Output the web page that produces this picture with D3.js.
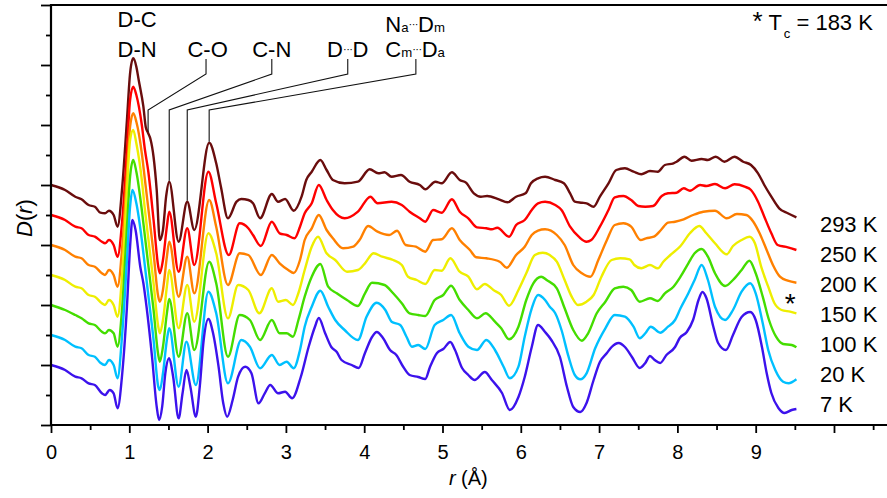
<!DOCTYPE html>
<html>
<head>
<meta charset="utf-8">
<script src="https://cdn.jsdelivr.net/npm/d3@7"></script>
<style>
  body { margin: 0; background: #fff; }
  svg { display: block; }
  text { font-family: "Liberation Sans", Arial, Helvetica, sans-serif; fill: #000; }
</style>
</head>
<body>
<svg id="chart" width="887" height="498"></svg>
<script>
// Temperatures, bottom curve first
const temperatures = ["7 K", "20 K", "100 K", "150 K", "200 K", "250 K", "293 K"];
const lineColors = ["#3c12ec", "#00c0ff", "#44dd00", "#eeee00", "#ff8000", "#ff0000", "#6a0d0d"];

// D(r) for each temperature, [r (Å), D] pairs (arbitrary units)
const d7K = [[0,0],[0.18,-0.5],[0.31,-1.17],[0.39,-1.33],[0.48,-1.83],[0.56,-2.0],[0.65,-2.83],[0.69,-3.0],[0.75,-2.5],[0.8,-2.83],[0.85,-4.33],[0.91,-0.83],[0.97,5.83],[1.01,11.83],[1.04,14.5],[1.08,13.5],[1.14,9.83],[1.18,8.17],[1.22,5.83],[1.29,0.83],[1.35,-4.17],[1.38,-5.5],[1.42,-4.17],[1.46,-0.83],[1.51,0.67],[1.56,-1.17],[1.63,-5.33],[1.68,-2.83],[1.73,-0.5],[1.78,-2.17],[1.85,-5.17],[1.9,-2.17],[1.95,2.5],[2.01,4.6],[2.07,3.17],[2.14,-0.17],[2.2,-3.83],[2.25,-5.17],[2.32,-3.5],[2.39,-1.17],[2.48,-0.17],[2.56,-0.83],[2.65,-3.83],[2.73,-2.83],[2.8,-2.0],[2.9,-2.83],[2.99,-2.67],[3.08,-3.33],[3.19,-1.2],[3.29,1.8],[3.37,3.8],[3.42,4.7],[3.5,3.2],[3.58,1.8],[3.65,1.3],[3.71,0.5],[3.84,0.0],[3.93,-0.3],[4.01,1.2],[4.1,2.8],[4.16,3.3],[4.24,2.7],[4.33,1.5],[4.41,1.0],[4.5,-0.2],[4.58,-1.0],[4.69,-1.2],[4.78,-1.4],[4.84,-0.2],[4.93,1.2],[5.01,1.6],[5.1,2.3],[5.16,1.5],[5.25,-0.3],[5.33,-1.0],[5.41,-1.5],[5.54,-0.7],[5.63,-1.5],[5.76,-2.8],[5.86,-4.5],[5.97,-3.2],[6.05,-1.2],[6.14,1.8],[6.22,4.0],[6.31,3.3],[6.39,2.5],[6.5,0.8],[6.59,-2.2],[6.67,-4.2],[6.76,-4.7],[6.84,-3.8],[6.93,-1.5],[7.01,0.3],[7.1,1.2],[7.16,1.8],[7.25,2.2],[7.33,1.8],[7.42,0.8],[7.52,-0.3],[7.59,0.2],[7.65,0.9],[7.71,0.5],[7.78,0.2],[7.86,1.0],[7.97,1.8],[8.03,2.7],[8.12,3.3],[8.2,4.5],[8.27,6.5],[8.32,7.3],[8.37,6.7],[8.46,3.8],[8.52,2.2],[8.62,1.5],[8.71,3.0],[8.82,4.8],[8.93,5.3],[9.0,4.5],[9.08,1.8],[9.14,-0.8],[9.2,-2.8],[9.29,-4.3],[9.37,-4.8],[9.46,-4.5],[9.52,-4.4]];

const d20K = [[0,0],[0.18,-0.5],[0.31,-1.17],[0.39,-1.33],[0.48,-2.0],[0.56,-2.17],[0.63,-2.77],[0.69,-3.0],[0.74,-2.5],[0.8,-3.0],[0.85,-4.33],[0.91,0.17],[0.97,7.5],[1.01,12.83],[1.04,14.5],[1.09,13.17],[1.16,9.5],[1.2,6.83],[1.24,4.17],[1.31,-0.5],[1.37,-5.17],[1.39,-5.5],[1.43,-3.83],[1.48,-0.5],[1.51,0.67],[1.63,-5.17],[1.73,-0.67],[1.85,-5.0],[2.01,4.33],[2.11,2.17],[2.26,-4.83],[2.43,-0.5],[2.54,-1.17],[2.67,-3.33],[2.82,-2.0],[2.92,-3.0],[3.01,-2.67],[3.1,-3.33],[3.18,-1.5],[3.24,0.83],[3.33,2.83],[3.44,4.43],[3.54,2.83],[3.63,1.5],[3.75,0.5],[3.92,-0.5],[4.03,1.83],[4.16,3.23],[4.27,2.5],[4.35,1.33],[4.46,1.0],[4.54,-0.17],[4.61,-1.17],[4.69,-1.0],[4.78,-1.4],[4.9,1.0],[5.01,1.5],[5.11,2.0],[5.22,0.17],[5.33,-1.17],[5.44,-1.5],[5.56,-0.5],[5.67,-1.5],[5.78,-3.17],[5.86,-4.33],[5.97,-3.17],[6.05,-0.17],[6.14,2.67],[6.22,4.0],[6.31,3.5],[6.37,2.83],[6.44,2.17],[6.52,0.5],[6.61,-2.17],[6.69,-4.0],[6.76,-4.43],[6.84,-3.83],[6.95,-1.33],[7.08,0.67],[7.2,2.0],[7.33,1.83],[7.44,0.83],[7.52,-0.33],[7.59,0.17],[7.66,0.83],[7.78,0.23],[7.88,0.83],[7.97,1.5],[8.04,2.67],[8.14,4.17],[8.22,5.5],[8.31,7.0],[8.39,5.5],[8.48,2.83],[8.61,1.5],[8.71,2.5],[8.82,4.33],[8.93,5.17],[9.0,4.17],[9.09,1.17],[9.16,-1.5],[9.25,-3.5],[9.35,-4.67],[9.42,-4.83],[9.52,-4.43]];

const d100K = [[0,0],[0.18,-0.5],[0.31,-1.0],[0.39,-1.33],[0.48,-1.83],[0.56,-2.0],[0.65,-2.67],[0.69,-2.83],[0.74,-2.5],[0.8,-2.83],[0.85,-4.17],[0.91,-0.17],[0.97,7.83],[1.01,12.83],[1.05,14.5],[1.09,13.33],[1.16,9.5],[1.2,6.83],[1.24,4.17],[1.31,-0.5],[1.37,-5.0],[1.39,-5.67],[1.43,-4.17],[1.48,-0.83],[1.51,0.6],[1.63,-5.17],[1.74,-0.83],[1.83,-4.5],[2.02,4.33],[2.11,2.17],[2.26,-5.17],[2.41,-1.0],[2.54,-1.5],[2.67,-3.5],[2.82,-1.5],[2.92,-2.83],[3.01,-2.83],[3.09,-3.17],[3.16,-1.5],[3.24,0.83],[3.33,2.83],[3.44,4.1],[3.54,1.83],[3.65,1.17],[3.78,0.5],[3.92,-0.1],[4.01,1.17],[4.1,2.23],[4.26,2.0],[4.37,1.17],[4.48,0.17],[4.58,-0.83],[4.69,-1.0],[4.78,-1.1],[4.9,0.5],[5.01,1.0],[5.11,1.93],[5.22,0.5],[5.33,-0.5],[5.44,-1.33],[5.55,-0.83],[5.67,-1.67],[5.75,-2.33],[5.85,-3.43],[5.97,-2.17],[6.07,0.5],[6.16,2.17],[6.26,2.83],[6.33,2.5],[6.46,1.67],[6.56,-0.33],[6.67,-2.5],[6.78,-3.57],[6.86,-2.83],[6.97,-0.83],[7.08,0.33],[7.2,1.67],[7.31,1.83],[7.41,1.5],[7.52,0.33],[7.65,0.67],[7.75,0.4],[7.84,1.17],[7.95,1.83],[8.04,2.83],[8.14,4.17],[8.22,5.17],[8.31,5.6],[8.39,4.83],[8.48,3.17],[8.61,1.9],[8.71,2.5],[8.82,3.5],[8.92,4.43],[9.0,3.17],[9.09,0.83],[9.17,-1.5],[9.26,-3.17],[9.35,-3.9],[9.46,-4.0],[9.52,-4.23]];

const d150K = [[0,0],[0.18,-0.5],[0.31,-1.17],[0.39,-1.33],[0.48,-2.0],[0.56,-2.17],[0.65,-2.83],[0.69,-3.0],[0.74,-2.5],[0.8,-3.0],[0.85,-4.17],[0.91,0.17],[0.97,8.5],[1.01,13.5],[1.05,14.5],[1.09,13.17],[1.16,9.5],[1.2,6.5],[1.24,3.83],[1.31,-0.83],[1.37,-5.17],[1.39,-5.83],[1.43,-4.5],[1.48,-1.17],[1.51,0.5],[1.63,-5.33],[1.74,-1.0],[1.83,-4.67],[2.01,4.17],[2.11,2.17],[2.26,-4.33],[2.39,-1.0],[2.52,-1.5],[2.66,-3.83],[2.82,-1.33],[2.9,-2.67],[3.0,-2.5],[3.09,-3.0],[3.16,-1.8],[3.24,0.5],[3.33,2.83],[3.41,3.83],[3.52,2.17],[3.63,1.5],[3.78,0.33],[3.92,0.5],[4.01,1.17],[4.12,2.17],[4.23,1.83],[4.37,1.5],[4.48,1.0],[4.56,-0.17],[4.67,-0.5],[4.78,-0.9],[4.9,0.5],[4.99,0.43],[5.1,1.67],[5.22,0.33],[5.33,-0.17],[5.44,-1.43],[5.54,-0.9],[5.65,-1.5],[5.75,-2.0],[5.85,-3.07],[5.97,-1.5],[6.07,0.17],[6.18,2.0],[6.28,2.23],[6.37,2.0],[6.46,1.33],[6.56,-0.5],[6.65,-2.17],[6.73,-3.0],[6.84,-2.67],[6.93,-2.0],[7.03,-0.17],[7.16,1.5],[7.27,1.67],[7.39,1.57],[7.45,1.0],[7.54,0.67],[7.65,1.0],[7.75,0.67],[7.82,1.33],[7.91,2.0],[8.04,2.9],[8.16,4.17],[8.28,4.9],[8.37,4.17],[8.48,3.17],[8.63,2.07],[8.71,2.9],[8.82,3.5],[8.92,3.83],[8.99,3.17],[9.07,0.83],[9.16,-1.17],[9.24,-2.83],[9.33,-3.5],[9.44,-3.67],[9.52,-3.83]];

const d200K = [[0,0],[0.18,-0.5],[0.31,-1.17],[0.39,-1.33],[0.48,-2.0],[0.56,-2.17],[0.65,-2.83],[0.69,-3.0],[0.74,-2.5],[0.8,-3.0],[0.85,-4.17],[0.91,-0.17],[0.97,7.17],[1.01,11.83],[1.05,13.17],[1.09,12.33],[1.16,9.17],[1.2,6.5],[1.24,3.83],[1.31,-0.83],[1.37,-5.17],[1.39,-5.67],[1.43,-4.5],[1.48,-1.17],[1.51,0.33],[1.63,-5.17],[1.74,-1.17],[1.83,-4.83],[2.02,4.5],[2.11,1.83],[2.26,-4.0],[2.41,-0.83],[2.52,-1.0],[2.68,-3.0],[2.82,-1.0],[2.92,-1.83],[3.03,-2.5],[3.1,-2.8],[3.18,-1.5],[3.24,0.5],[3.33,1.67],[3.42,3.0],[3.52,1.5],[3.6,0.67],[3.73,-0.33],[3.86,-0.17],[3.94,0.5],[4.05,1.9],[4.17,1.33],[4.32,1.0],[4.42,1.43],[4.53,0.0],[4.66,-0.17],[4.78,-0.67],[4.88,0.5],[4.99,0.57],[5.12,1.67],[5.22,0.5],[5.35,-0.5],[5.43,-1.23],[5.56,-1.33],[5.73,-1.67],[5.82,-2.27],[5.94,-1.0],[6.05,-0.17],[6.14,1.0],[6.22,1.43],[6.31,1.57],[6.46,1.0],[6.56,0.0],[6.67,-2.0],[6.78,-2.83],[6.89,-3.17],[6.99,-1.5],[7.1,0.5],[7.2,2.0],[7.31,2.17],[7.41,1.83],[7.53,0.5],[7.6,0.67],[7.7,0.83],[7.79,1.5],[7.88,2.23],[7.97,2.33],[8.08,2.57],[8.2,3.0],[8.33,3.33],[8.48,3.43],[8.63,2.67],[8.76,3.1],[8.88,3.0],[8.97,2.33],[9.05,1.17],[9.14,-0.5],[9.22,-2.0],[9.31,-3.17],[9.41,-3.57],[9.52,-3.77]];

const d250K = [[0,0],[0.18,-0.5],[0.31,-1.17],[0.39,-1.33],[0.48,-2.0],[0.56,-2.17],[0.65,-2.67],[0.69,-2.83],[0.74,-2.5],[0.8,-3.0],[0.85,-4.17],[0.91,-0.5],[0.97,6.5],[1.01,11.5],[1.05,12.83],[1.09,12.0],[1.16,9.0],[1.2,6.5],[1.24,4.5],[1.31,-0.5],[1.37,-5.17],[1.39,-5.83],[1.43,-4.5],[1.48,-1.17],[1.51,0.33],[1.63,-5.67],[1.74,-1.33],[1.83,-5.0],[2.01,4.33],[2.11,1.17],[2.27,-4.0],[2.41,-0.83],[2.52,-1.33],[2.58,-2.0],[2.68,-3.1],[2.82,-0.67],[2.92,-1.83],[3.01,-2.0],[3.11,-2.33],[3.18,-1.17],[3.24,0.17],[3.33,1.17],[3.42,3.0],[3.52,1.5],[3.6,0.5],[3.75,-0.33],[3.92,0.33],[4.08,1.83],[4.17,1.17],[4.35,1.33],[4.48,1.0],[4.58,0.33],[4.71,-0.33],[4.78,-0.67],[4.88,0.5],[4.99,0.23],[5.12,1.57],[5.22,0.33],[5.33,-0.33],[5.44,-1.23],[5.56,-1.33],[5.63,-1.43],[5.7,-1.27],[5.85,-2.17],[5.94,-1.0],[6.05,-0.5],[6.14,0.5],[6.22,1.17],[6.31,1.33],[6.44,1.0],[6.52,0.5],[6.63,-1.17],[6.74,-2.17],[6.84,-2.67],[6.9,-2.5],[7.01,-1.17],[7.12,0.5],[7.2,1.77],[7.31,1.9],[7.41,1.5],[7.5,0.9],[7.59,0.83],[7.69,0.9],[7.8,1.9],[7.88,2.17],[7.99,2.23],[8.08,2.67],[8.16,2.43],[8.29,3.0],[8.37,2.9],[8.48,3.1],[8.61,2.67],[8.73,3.07],[8.86,2.83],[8.94,2.5],[9.03,1.33],[9.11,-0.17],[9.2,-1.83],[9.28,-3.0],[9.41,-3.23],[9.52,-3.5]];

const d293K = [[0,0],[0.18,-0.5],[0.31,-1.17],[0.39,-1.43],[0.48,-2.0],[0.56,-2.17],[0.63,-2.77],[0.69,-2.83],[0.74,-2.57],[0.8,-3.0],[0.85,-4.17],[0.91,-0.17],[0.97,6.5],[1.01,11.17],[1.05,12.67],[1.09,11.83],[1.12,10.5],[1.18,7.83],[1.21,5.8],[1.24,5.2],[1.27,4.6],[1.31,2.8],[1.35,-0.5],[1.39,-5.5],[1.43,-4.5],[1.47,-1.17],[1.51,0.33],[1.63,-5.67],[1.74,-1.67],[1.83,-4.5],[2.02,4.23],[2.11,2.17],[2.17,-0.17],[2.26,-3.33],[2.37,-1.67],[2.43,-1.4],[2.52,-1.5],[2.58,-1.83],[2.67,-3.33],[2.82,-0.9],[2.9,-1.67],[2.99,-1.4],[3.1,-2.57],[3.2,-1.17],[3.26,0.5],[3.33,1.33],[3.44,2.5],[3.52,1.5],[3.6,0.5],[3.75,0.17],[3.92,0.33],[4.07,1.57],[4.18,1.17],[4.26,1.27],[4.35,0.83],[4.47,1.0],[4.58,0.33],[4.71,0.0],[4.78,-0.43],[4.91,0.33],[4.99,0.17],[5.12,1.27],[5.22,0.5],[5.3,0.23],[5.4,-0.83],[5.49,-1.17],[5.57,-1.1],[5.72,-1.43],[5.83,-1.73],[5.94,-1.17],[6.06,-0.83],[6.13,0.17],[6.22,0.67],[6.31,0.83],[6.44,0.5],[6.55,0.17],[6.63,-0.83],[6.69,-1.67],[6.78,-1.77],[6.84,-1.83],[6.93,-2.17],[7.01,-1.17],[7.12,0.17],[7.22,1.5],[7.33,1.67],[7.44,1.33],[7.54,1.07],[7.65,1.4],[7.75,1.33],[7.84,2.0],[7.95,2.17],[7.99,2.33],[8.09,2.83],[8.18,2.43],[8.31,2.6],[8.39,2.5],[8.49,2.83],[8.6,2.33],[8.73,2.83],[8.84,2.33],[8.94,2.0],[9.03,1.17],[9.11,0.0],[9.2,-1.17],[9.3,-2.33],[9.41,-2.83],[9.52,-3.23]];

const seriesValues = [d7K, d20K, d100K, d150K, d200K, d250K, d293K];

// Axis ticks
const xMajorTicks = [0, 1, 2, 3, 4, 5, 6, 7, 8, 9, 10];
const xTickLabels = ["0", "1", "2", "3", "4", "5", "6", "7", "8", "9"];
const xMinorTicks = [0.5, 1.5, 2.5, 3.5, 4.5, 5.5, 6.5, 7.5, 8.5, 9.5, 10.5];
const yMajorTicks = [-6, 0, 6, 12, 18, 24, 30, 36];
const yMinorTicks = [-3, 3, 9, 15, 21, 27, 33];

// Bond assignments: label centre r, leader target r on the top curve
const bondNotes = [
  { parts: [["C-O"]], r: 2.0, leaderR: 1.98, target: 1.24 },
  { parts: [["C-N"]], r: 2.82, leaderR: 2.82, target: 1.51 },
  { parts: [["D"], ["···", "dots"], ["D"]], r: 3.79, leaderR: 3.79, target: 1.74 },
  { parts: [["C"], ["m", "sub"], ["···", "dots"], ["D"], ["a", "sub"]], r: 4.65, leaderR: 4.66, target: 2.02 }
];
const upperNotes = [
  { parts: [["D-N"]], r: 1.1, level: 30.8 },
  { parts: [["D-C"]], r: 1.1, level: 33.8 },
  { parts: [["N"], ["a", "sub"], ["···", "dots"], ["D"], ["m", "sub"]], r: 4.65, level: 33.3 }
];

// ---- layout ----
const width = 887, height = 498;
const margin = { left: 51, top: 5, bottom: 73 };
const plotBottom = height - margin.bottom;
const stackStep = 3;

const x = d3.scaleLinear().domain([0, 10.677]).range([margin.left, width]);
const y = d3.scaleLinear().domain([-6, 36]).range([plotBottom, margin.top]);

const svg = d3.select("#chart");

// curves (highest temperature drawn first)
const line = d3.line().curve(d3.curveMonotoneX);
const order = d3.range(seriesValues.length).reverse();
svg.append("g").selectAll("path").data(order).join("path")
  .attr("fill", "none")
  .attr("stroke", i => lineColors[i])
  .attr("stroke-width", 2.4)
  .attr("stroke-linejoin", "round")
  .attr("d", i => line(seriesValues[i].map(([r, v]) => [x(r), y(v + i * stackStep)])));

// frame and axes
const axisG = svg.append("g");
function tickStyle(g) {
  g.select(".domain").remove();
  g.selectAll(".tick line").attr("stroke", "#000").attr("stroke-width", 1.8);
}
axisG.append("g").attr("transform", `translate(0,${plotBottom})`)
  .call(d3.axisBottom(x).tickValues(xMinorTicks).tickSize(5).tickFormat(""))
  .call(tickStyle)
  .call(g => g.selectAll(".tick text").remove());
axisG.append("g").attr("transform", `translate(0,${plotBottom})`)
  .call(d3.axisBottom(x).tickValues(xMajorTicks).tickSize(8).tickPadding(12)
    .tickFormat((d, i) => xTickLabels[i] || ""))
  .call(tickStyle)
  .call(g => g.selectAll(".tick text").filter((d, i) => !xTickLabels[i]).remove())
  .call(g => g.selectAll(".tick text").attr("font-size", 20).attr("fill", "#000")
    .attr("font-family", '"Liberation Sans", Arial, sans-serif'));
axisG.append("g").attr("transform", `translate(${margin.left},0)`)
  .call(d3.axisLeft(y).tickValues(yMinorTicks).tickSize(5).tickFormat(""))
  .call(tickStyle)
  .call(g => g.selectAll(".tick text").remove());
axisG.append("g").attr("transform", `translate(${margin.left},0)`)
  .call(d3.axisLeft(y).tickValues(yMajorTicks).tickSize(10).tickFormat(""))
  .call(tickStyle)
  .call(g => g.selectAll(".tick text").remove());

const frame = svg.append("g").attr("stroke", "#000").attr("stroke-width", 2.2);
frame.append("line").attr("x1", margin.left).attr("x2", width).attr("y1", y(36)).attr("y2", y(36));
frame.append("line").attr("x1", margin.left).attr("x2", width).attr("y1", y(-6)).attr("y2", y(-6));
frame.append("line").attr("x1", margin.left).attr("x2", margin.left).attr("y1", y(-6) + 1).attr("y2", y(36) - 1);

// axis titles
const xTitle = svg.append("text").attr("x", x(5.33)).attr("y", plotBottom + 60)
  .attr("text-anchor", "middle").attr("font-size", 20);
xTitle.append("tspan").attr("font-style", "italic").text("r");
xTitle.append("tspan").text(" (Å)");

const yTitle = svg.append("text")
  .attr("transform", `translate(32,${(y(-6) + y(36)) / 2 + 3}) rotate(-90)`)
  .attr("text-anchor", "middle").attr("font-size", 22);
yTitle.append("tspan").attr("font-style", "italic").text("D");
yTitle.append("tspan").text("(");
yTitle.append("tspan").attr("font-style", "italic").text("r");
yTitle.append("tspan").text(")");

// rich label: parts are [text, kind]; dots are raised, the next part drops back
function richText(sel, parts, size) {
  let lift = 0;
  parts.forEach(([t, kind]) => {
    const ts = sel.append("tspan").text(t);
    if (kind === "sub") ts.attr("font-size", size * 0.6);
    if (kind === "dots") {
      ts.attr("font-size", size * 0.5).attr("dy", -size * 0.2).attr("letter-spacing", -0.5);
      lift = size * 0.2;
    } else if (lift) {
      ts.attr("dy", lift);
      lift = 0;
    }
  });
}

const noteSize = 22;
bondNotes.forEach(n => {
  const t = svg.append("text").attr("x", x(n.r)).attr("y", y(30.8))
    .attr("text-anchor", "middle").attr("font-size", noteSize);
  richText(t, n.parts, noteSize);
  const hit = d293K.find(p => p[0] === n.target);
  const yEnd = y(hit[1] + 6 * stackStep);
  const pts = [[x(n.leaderR), y(30.6)], [x(n.leaderR), y(29.1)], [x(n.target), y(25.5)], [x(n.target), yEnd - 1]];
  svg.append("path").attr("d", d3.line()(pts))
    .attr("fill", "none").attr("stroke", "#111").attr("stroke-width", 1.1);
});
upperNotes.forEach(n => {
  const t = svg.append("text").attr("x", x(n.r)).attr("y", y(n.level))
    .attr("text-anchor", "middle").attr("font-size", noteSize);
  richText(t, n.parts, noteSize);
});

// Tc note
const tc = svg.append("text").attr("x", x(8.96)).attr("y", y(33.5)).attr("font-size", 22);
tc.append("tspan").attr("font-size", 26).text("*");
tc.append("tspan").text(" T");
tc.append("tspan").attr("font-size", 13).attr("dx", 2).attr("dy", 8).text("c");
tc.append("tspan").attr("dy", -8).text(" = 183 K");

// temperature labels at the right end of each curve
svg.append("g").selectAll("text").data(temperatures).join("text")
  .attr("x", x(9.82))
  .attr("y", (d, i) => y(i * stackStep - 4.7))
  .attr("font-size", 22)
  .text(d => d);

// transition marker near the 150 K curve end
svg.append("text").attr("x", x(9.44)).attr("y", y(3 * stackStep - 3.8))
  .attr("text-anchor", "middle").attr("font-size", 28).text("*");
</script>
</body>
</html>
